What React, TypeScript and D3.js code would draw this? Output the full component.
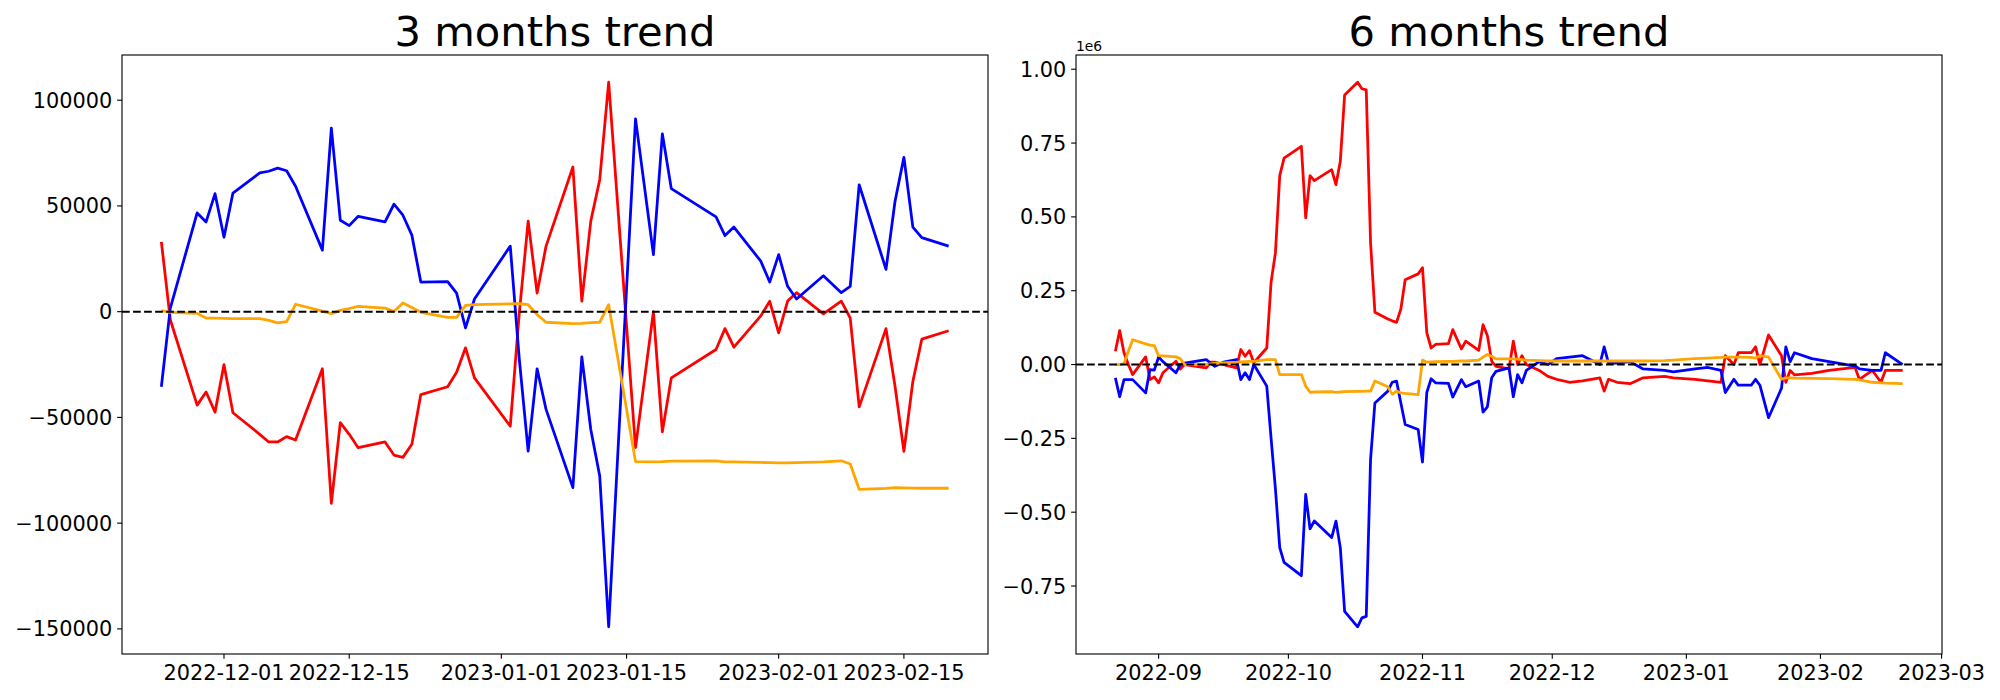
import { useEffect, useRef } from "react"
import * as d3 from "d3"

// ---- 3 months panel ----
const leftDates = [
  "2022-11-24", "2022-11-25", "2022-11-28", "2022-11-29", "2022-11-30", "2022-12-01", "2022-12-02",
  "2022-12-05", "2022-12-06", "2022-12-07", "2022-12-08", "2022-12-09", "2022-12-12", "2022-12-13",
  "2022-12-14", "2022-12-15", "2022-12-16", "2022-12-19", "2022-12-20", "2022-12-21", "2022-12-22",
  "2022-12-23", "2022-12-26", "2022-12-27", "2022-12-28", "2022-12-29", "2023-01-02", "2023-01-03",
  "2023-01-04", "2023-01-05", "2023-01-06", "2023-01-09", "2023-01-10", "2023-01-11", "2023-01-12",
  "2023-01-13", "2023-01-16", "2023-01-18", "2023-01-19", "2023-01-20", "2023-01-25", "2023-01-26",
  "2023-01-27", "2023-01-30", "2023-01-31", "2023-02-01", "2023-02-02", "2023-02-03", "2023-02-06",
  "2023-02-08", "2023-02-09", "2023-02-10", "2023-02-13", "2023-02-14", "2023-02-15", "2023-02-16",
  "2023-02-17", "2023-02-20",
]
const leftBlue = [
  -35500, 1700, 46700, 42450, 55800, 35200, 56100,
  65600, 66400, 67900, 66650, 59300, 29100, 86800,
  43250, 40700, 45100, 42450, 50800, 45600, 36200,
  14000, 14200, 8800, -7700, 6000, 31000, -22000,
  -65900, -27000, -46200, -83200, -21400, -55700, -77700,
  -149000, 91200, 27000, 84100, 58200, 44800, 36000,
  40000, 23900, 14000, 27000, 12000, 6000, 17000,
  9000, 12000, 60000, 20000, 52000, 73000, 40000,
  35000, 31000,
]
const leftRed = [
  33000, -3800, -44200, -38000, -47500, -25000, -47800,
  -58000, -61600, -61600, -59100, -60700, -27000, -90600,
  -52500, -58000, -64300, -61600, -67800, -68900, -62700,
  -39200, -35500, -28600, -17100, -31300, -54100, -1000,
  42800, 8800, 31000, 68400, 5000, 42800, 62400,
  108500, -64300, 0, -56800, -31300, -17900, -8000,
  -16800, -2000, 4900, -10000, 5000, 9000, -1000,
  5000, -3000, -45000, -8000, -35000, -66000, -33000,
  -13000, -9000,
]
const leftOrange = [
  500, -300, -800, -3000, -3100, -3200, -3300,
  -3300, -4100, -5300, -4700, 3500, 300, -900,
  600, 1500, 2500, 1700, 100, 4100, 2000,
  -300, -2700, -2700, 3000, 3300, 3700, 3800,
  3300, -1400, -5000, -5700, -5500, -5200, -5000,
  3300, -70900, -71000, -70900, -70700, -70600, -71000,
  -71000, -71300, -71400, -71500, -71500, -71400, -71000,
  -70500, -72000, -84000, -83600, -83200, -83300, -83400,
  -83500, -83500,
]
const leftTicks = ["2022-12-01", "2022-12-15", "2023-01-01", "2023-01-15", "2023-02-01", "2023-02-15"]
const leftYTicks = [100000, 50000, 0, -50000, -100000, -150000]

// ---- 6 months panel (values in units of 1e6) ----
const rightDates = [
  "2022-08-22", "2022-08-23", "2022-08-24", "2022-08-25", "2022-08-26", "2022-08-29", "2022-08-30",
  "2022-08-31", "2022-09-01", "2022-09-02", "2022-09-05", "2022-09-06", "2022-09-07", "2022-09-12",
  "2022-09-13", "2022-09-14", "2022-09-16", "2022-09-19", "2022-09-20", "2022-09-21", "2022-09-22",
  "2022-09-23", "2022-09-26", "2022-09-27", "2022-09-28", "2022-09-29", "2022-09-30", "2022-10-04",
  "2022-10-05", "2022-10-06", "2022-10-07", "2022-10-11", "2022-10-12", "2022-10-13", "2022-10-14",
  "2022-10-17", "2022-10-18", "2022-10-19", "2022-10-20", "2022-10-21", "2022-10-24", "2022-10-25",
  "2022-10-26", "2022-10-27", "2022-10-28", "2022-10-31", "2022-11-01", "2022-11-02", "2022-11-03",
  "2022-11-04", "2022-11-07", "2022-11-08", "2022-11-10", "2022-11-11", "2022-11-14", "2022-11-15",
  "2022-11-16", "2022-11-17", "2022-11-18", "2022-11-21", "2022-11-22", "2022-11-23", "2022-11-24",
  "2022-11-25", "2022-11-28", "2022-11-30", "2022-12-02", "2022-12-05", "2022-12-08", "2022-12-12",
  "2022-12-13", "2022-12-14", "2022-12-16", "2022-12-19", "2022-12-22", "2022-12-27", "2022-12-29",
  "2023-01-03", "2023-01-06", "2023-01-09", "2023-01-10", "2023-01-12", "2023-01-13", "2023-01-16",
  "2023-01-17", "2023-01-18", "2023-01-20", "2023-01-23", "2023-01-24", "2023-01-25", "2023-01-26",
  "2023-01-30", "2023-02-03", "2023-02-09", "2023-02-10", "2023-02-13", "2023-02-15", "2023-02-16",
  "2023-02-20",
]
const rightBlue = [
  -0.045, -0.109, -0.051, -0.051, -0.051, -0.096, -0.017,
  -0.019, 0.026, 0.01, -0.028, 0.0, 0.005, 0.017,
  0.005, -0.006, 0.008, 0.017, -0.051, -0.028, -0.051,
  0.0, -0.073, -0.25, -0.42, -0.62, -0.67, -0.715,
  -0.44, -0.556, -0.53, -0.586, -0.53, -0.62, -0.836,
  -0.888, -0.858, -0.853, -0.32, -0.13, -0.09, -0.06,
  -0.056, -0.13, -0.203, -0.22, -0.33, -0.094, -0.048,
  -0.062, -0.064, -0.11, -0.051, -0.075, -0.056, -0.161,
  -0.143, -0.045, -0.023, -0.011, -0.109, -0.034, -0.062,
  -0.02, 0.01, 0.0, 0.02, 0.025, 0.03, 0.0,
  0.06, 0.005, 0.005, 0.01, -0.015, -0.02, -0.025,
  -0.015, -0.01, -0.02, -0.095, -0.05, -0.07, -0.07,
  -0.05, -0.07, -0.18, -0.08, 0.06, 0.01, 0.04,
  0.02, 0.01, -0.005, -0.015, -0.02, -0.02, 0.04,
  0.0,
]
const rightRed = [
  0.045, 0.115, 0.04, 0.0, -0.034, 0.026, -0.051,
  -0.042, -0.062, -0.028, 0.011, -0.015, 0.0, -0.011,
  0.008, 0.008, 0.0, -0.011, 0.051, 0.028, 0.047,
  0.006, 0.056, 0.279, 0.378, 0.64, 0.699, 0.739,
  0.497, 0.64, 0.623, 0.66, 0.609, 0.688, 0.913,
  0.956, 0.934, 0.93, 0.412, 0.177, 0.154, 0.148,
  0.143, 0.188, 0.287, 0.307, 0.328, 0.107, 0.056,
  0.068, 0.071, 0.118, 0.053, 0.079, 0.048, 0.135,
  0.098, 0.011, -0.006, -0.015, 0.079, 0.0, 0.03,
  0.0, -0.02, -0.04, -0.05, -0.06, -0.055, -0.045,
  -0.09, -0.05, -0.06, -0.065, -0.045, -0.04, -0.045,
  -0.05, -0.055, -0.06, 0.03, 0.0, 0.04, 0.04,
  0.06, 0.0, 0.1, 0.03, -0.06, -0.02, -0.035,
  -0.03, -0.02, -0.01, -0.05, -0.02, -0.06, -0.02,
  -0.02,
]
const rightOrange = [
  0.0, 0.0, 0.003, 0.045, 0.084, 0.07, 0.066,
  0.064, 0.03, 0.029, 0.026, 0.02, 0.0, 0.0,
  0.002, 0.004, 0.006, 0.008, 0.009, 0.01, 0.011,
  0.011, 0.017, 0.017, 0.017, -0.034, -0.034, -0.034,
  -0.073, -0.094, -0.093, -0.092, -0.094, -0.093, -0.092,
  -0.091, -0.091, -0.09, -0.09, -0.056, -0.075, -0.101,
  -0.09, -0.096, -0.098, -0.102, 0.015, 0.008, 0.009,
  0.01, 0.011, 0.011, 0.012, 0.012, 0.015, 0.025,
  0.034, 0.028, 0.019, 0.019, 0.019, 0.018, 0.017,
  0.015, 0.013, 0.012, 0.012, 0.012, 0.012, 0.012,
  0.012, 0.012, 0.012, 0.012, 0.012, 0.013, 0.015,
  0.02, 0.022, 0.024, 0.025, 0.025, 0.025, 0.024,
  0.022, 0.03, 0.025, -0.05, -0.045, -0.045, -0.046,
  -0.047, -0.048, -0.05, -0.052, -0.06, -0.062, -0.063,
  -0.065,
]
const rightTicks = ["2022-09-01", "2022-10-01", "2022-11-01", "2022-12-01", "2023-01-01", "2023-02-01", "2023-03-01"]
const rightYTicks = [1.0, 0.75, 0.5, 0.25, 0, -0.25, -0.5, -0.75]

const W = 2000
const H = 700
const TOP = 55
const BOTTOM = 654
const FONT = "DejaVu Sans, sans-serif"
const PX = 100 / 72

const parse = d3.utcParse("%Y-%m-%d")

interface PanelOpts {
  x0: number
  x1: number
  title: string
  dates: string[]
  series: { values: number[]; color: string }[]
  xTicks: string[]
  xFormat: string
  yTicks: number[]
  yFormat: (v: number) => string
  offsetText?: string
}

function padded(lo: number, hi: number): [number, number] {
  const m = (hi - lo) * 0.05
  return [lo - m, hi + m]
}

function drawPanel(root: d3.Selection<SVGSVGElement, unknown, null, undefined>, o: PanelOpts) {
  const g = root.append("g")
  const dates = o.dates.map((d) => parse(d) as Date)
  const t = dates.map((d) => d.getTime())
  const [tx0, tx1] = padded(d3.min(t)!, d3.max(t)!)
  const x = d3.scaleUtc().domain([new Date(tx0), new Date(tx1)]).range([o.x0, o.x1])

  const all = o.series.flatMap((s) => s.values)
  const y = d3.scaleLinear().domain(padded(d3.min(all)!, d3.max(all)!)).range([BOTTOM, TOP])

  const line = d3
    .line<number>()
    .x((_, i) => x(dates[i]))
    .y((v) => y(v))

  o.series.forEach((s) => {
    g.append("path")
      .attr("d", line(s.values))
      .attr("fill", "none")
      .attr("stroke", s.color)
      .attr("stroke-width", 2 * PX)
      .attr("stroke-linejoin", "round")
      .attr("stroke-linecap", "butt")
  })

  // zero reference
  g.append("line")
    .attr("x1", o.x0)
    .attr("x2", o.x1)
    .attr("y1", y(0))
    .attr("y2", y(0))
    .attr("stroke", "black")
    .attr("stroke-width", 1.5 * PX)
    .attr("stroke-dasharray", `${3.7 * 1.5 * PX},${1.6 * 1.5 * PX}`)

  // frame
  g.append("rect")
    .attr("x", o.x0)
    .attr("y", TOP)
    .attr("width", o.x1 - o.x0)
    .attr("height", BOTTOM - TOP)
    .attr("fill", "none")
    .attr("stroke", "black")
    .attr("stroke-width", 0.8 * PX)

  const tickLen = 3.5 * PX
  const fs = 15 * PX

  // y ticks
  o.yTicks.forEach((v) => {
    const yy = y(v)
    g.append("line")
      .attr("x1", o.x0 - tickLen)
      .attr("x2", o.x0)
      .attr("y1", yy)
      .attr("y2", yy)
      .attr("stroke", "black")
      .attr("stroke-width", 0.8 * PX)
    g.append("text")
      .attr("x", o.x0 - tickLen - 3.5 * PX)
      .attr("y", yy)
      .attr("dy", "0.36em")
      .attr("text-anchor", "end")
      .attr("font-family", FONT)
      .attr("font-size", fs)
      .text(o.yFormat(v))
  })

  // x ticks
  const fmt = d3.utcFormat(o.xFormat)
  o.xTicks.forEach((d) => {
    const dt = parse(d) as Date
    const xx = x(dt)
    g.append("line")
      .attr("x1", xx)
      .attr("x2", xx)
      .attr("y1", BOTTOM)
      .attr("y2", BOTTOM + tickLen)
      .attr("stroke", "black")
      .attr("stroke-width", 0.8 * PX)
    g.append("text")
      .attr("x", xx)
      .attr("y", BOTTOM + tickLen + 3.5 * PX + fs * 0.76)
      .attr("text-anchor", "middle")
      .attr("font-family", FONT)
      .attr("font-size", fs)
      .text(fmt(dt))
  })

  g.append("text")
    .attr("x", (o.x0 + o.x1) / 2)
    .attr("y", TOP - 9)
    .attr("text-anchor", "middle")
    .attr("font-family", FONT)
    .attr("font-size", 30 * PX)
    .text(o.title)

  if (o.offsetText) {
    g.append("text")
      .attr("x", o.x0)
      .attr("y", TOP - 4)
      .attr("font-family", FONT)
      .attr("font-size", 10 * PX)
      .text(o.offsetText)
  }
}

const minus = (s: string) => s.replace("-", "\u2212")

export default function App() {
  const svgRef = useRef<SVGSVGElement>(null)

  useEffect(() => {
    if (!svgRef.current) return
    const svg = d3.select(svgRef.current)
    svg.selectAll("*").remove()

    svg.append("rect").attr("width", W).attr("height", H).attr("fill", "white")

    drawPanel(svg, {
      x0: 122,
      x1: 988,
      title: "3 months trend",
      dates: leftDates,
      series: [
        { values: leftRed, color: "red" },
        { values: leftBlue, color: "blue" },
        { values: leftOrange, color: "orange" },
      ],
      xTicks: leftTicks,
      xFormat: "%Y-%m-%d",
      yTicks: leftYTicks,
      yFormat: (v) => minus(String(v)),
    })

    drawPanel(svg, {
      x0: 1076,
      x1: 1942,
      title: "6 months trend",
      dates: rightDates,
      series: [
        { values: rightRed, color: "red" },
        { values: rightBlue, color: "blue" },
        { values: rightOrange, color: "orange" },
      ],
      xTicks: rightTicks,
      xFormat: "%Y-%m",
      yTicks: rightYTicks,
      yFormat: (v) => minus(v.toFixed(2)),
      offsetText: "1e6",
    })
  }, [])

  return (
    <div style={{ position: "absolute", left: 0, top: 0 }}>
      <svg ref={svgRef} width={W} height={H}></svg>
    </div>
  )
}
